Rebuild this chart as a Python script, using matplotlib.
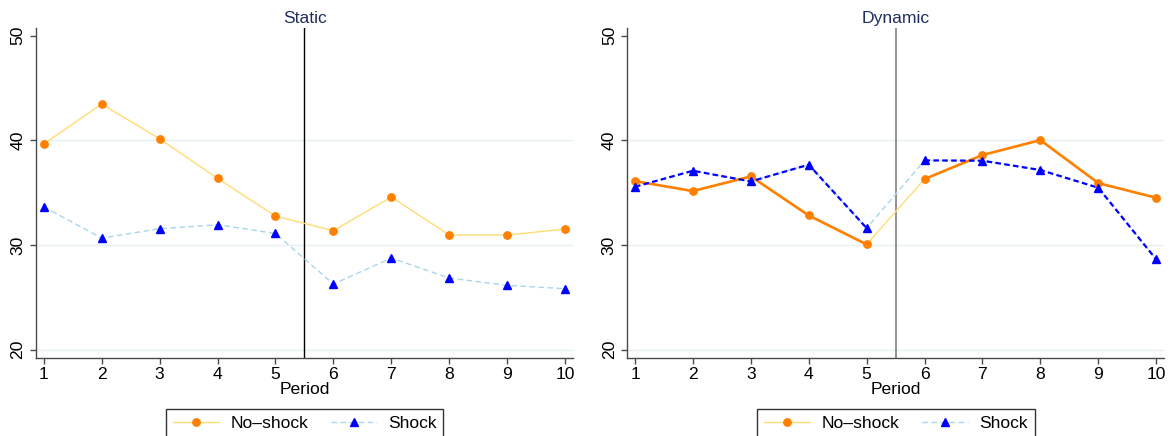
import matplotlib
matplotlib.use("Agg")
import matplotlib.pyplot as plt
from matplotlib.lines import Line2D

plt.rcParams['font.family'] = ['Liberation Sans', 'DejaVu Sans']

periods = [1, 2, 3, 4, 5, 6, 7, 8, 9, 10]
static_noshock = [39.65, 43.47, 40.16, 36.37, 32.77, 31.37, 34.59, 30.96, 30.96, 31.53]
static_shock = [33.66, 30.67, 31.56, 31.94, 31.11, 26.27, 28.76, 26.85, 26.15, 25.83]
dynamic_noshock = [36.11, 35.16, 36.56, 32.83, 30.06, 36.31, 38.60, 40.03, 35.92, 34.52]
dynamic_shock = [35.57, 37.10, 36.08, 37.68, 31.62, 38.09, 38.06, 37.17, 35.48, 28.63]
titles = ["Static", "Dynamic"]
legend_labels = ["No\u2013shock", "Shock"]
yticks = [20, 30, 40, 50]
xlabel = "Period"
break_x = 5.5

ORANGE = "#ff8000"
YELLOW = "#ffdc73"
LBLUE = "#a9d6ea"
BLUE = "#0000ff"
NAVY = "#1f2d5c"
SPINE = "#4a4a4a"
GRID = "#e6eff2"

W, H = 1176, 436
fig = plt.figure(figsize=(W / 100, H / 100), dpi=100)

axes_px = [(36, 573.3), (627.3, 1164.3)]
top_px, bot_px = 28.3, 357.7
FS = 12.6
MS_C = 5.3
MS_T = 6.0

for i, (x0, x1) in enumerate(axes_px):
    ax = fig.add_axes([x0 / W, 1 - bot_px / H, (x1 - x0) / W, (bot_px - top_px) / H])
    ax.set_xlim(0.867, 10.14)
    ax.set_ylim(19.24, 50.71)
    for s in ['top', 'right']:
        ax.spines[s].set_visible(False)
    for s in ['left', 'bottom']:
        ax.spines[s].set_color(SPINE)
        ax.spines[s].set_linewidth(1.0)
    for yv in [20, 30, 40]:
        ax.axhline(yv, color=GRID, lw=1.0, zorder=0)
    ax.set_yticks(yticks)
    ax.set_yticklabels([str(v) for v in yticks], rotation=90, va='center')
    ax.set_xticks(periods)
    ax.tick_params(axis='both', direction='out', length=4, width=1.0, color=SPINE,
                   labelsize=FS, labelcolor='black')
    ax.tick_params(axis='y', pad=3.5)
    ax.tick_params(axis='x', pad=3)
    ax.set_xlabel(xlabel, fontsize=FS, labelpad=0)
    ax.set_title(titles[i], fontsize=FS, color=NAVY, pad=4)

    if i == 0:
        ns, sh = static_noshock, static_shock
        ax.axvline(break_x, color='black', lw=1.0, zorder=1)
        ax.plot(periods, ns, color=YELLOW, lw=1.0, zorder=2)
        ax.plot(periods, sh, color=LBLUE, lw=1.0, ls=(0, (4, 2.5)), zorder=2)
    else:
        ns, sh = dynamic_noshock, dynamic_shock
        ax.axvline(break_x, color='#808080', lw=1.2, zorder=1)
        ax.plot(periods, ns, color=YELLOW, lw=1.0, zorder=2)
        ax.plot(periods, sh, color=LBLUE, lw=1.0, ls=(0, (4, 2.5)), zorder=2)
        ax.plot(periods[:5], ns[:5], color=ORANGE, lw=1.9, zorder=3)
        ax.plot(periods[5:], ns[5:], color=ORANGE, lw=1.9, zorder=3)
        ax.plot(periods[:5], sh[:5], color=BLUE, lw=1.6, ls=(0, (2.5, 1.5)), zorder=3)
        ax.plot(periods[5:], sh[5:], color=BLUE, lw=1.6, ls=(0, (2.5, 1.5)), zorder=3)
    ax.plot(periods, ns, ls='none', marker='o', ms=MS_C, color=ORANGE, mec=ORANGE, zorder=4)
    ax.plot(periods, sh, ls='none', marker='^', ms=MS_T, color=BLUE, mec=BLUE, zorder=4)

    handles = [
        Line2D([], [], color=YELLOW, lw=1.0, marker='o', ms=MS_C, mfc=ORANGE, mec=ORANGE),
        Line2D([], [], color=LBLUE, lw=1.0, ls=(0, (4, 2.5)), marker='^', ms=MS_T, mfc=BLUE, mec=BLUE),
    ]
    cx = (x0 + x1) / 2 / W
    leg = fig.legend(handles, legend_labels, loc='upper center',
                     bbox_to_anchor=(cx, 1 - 409 / H), ncol=2, fontsize=FS,
                     frameon=True, fancybox=False, shadow=False, edgecolor='black',
                     handlelength=2.65, handletextpad=0.62, columnspacing=1.3,
                     borderpad=0.4, borderaxespad=0)
    leg.get_frame().set_linewidth(1.0)

fig.savefig("out.png", dpi=100)
